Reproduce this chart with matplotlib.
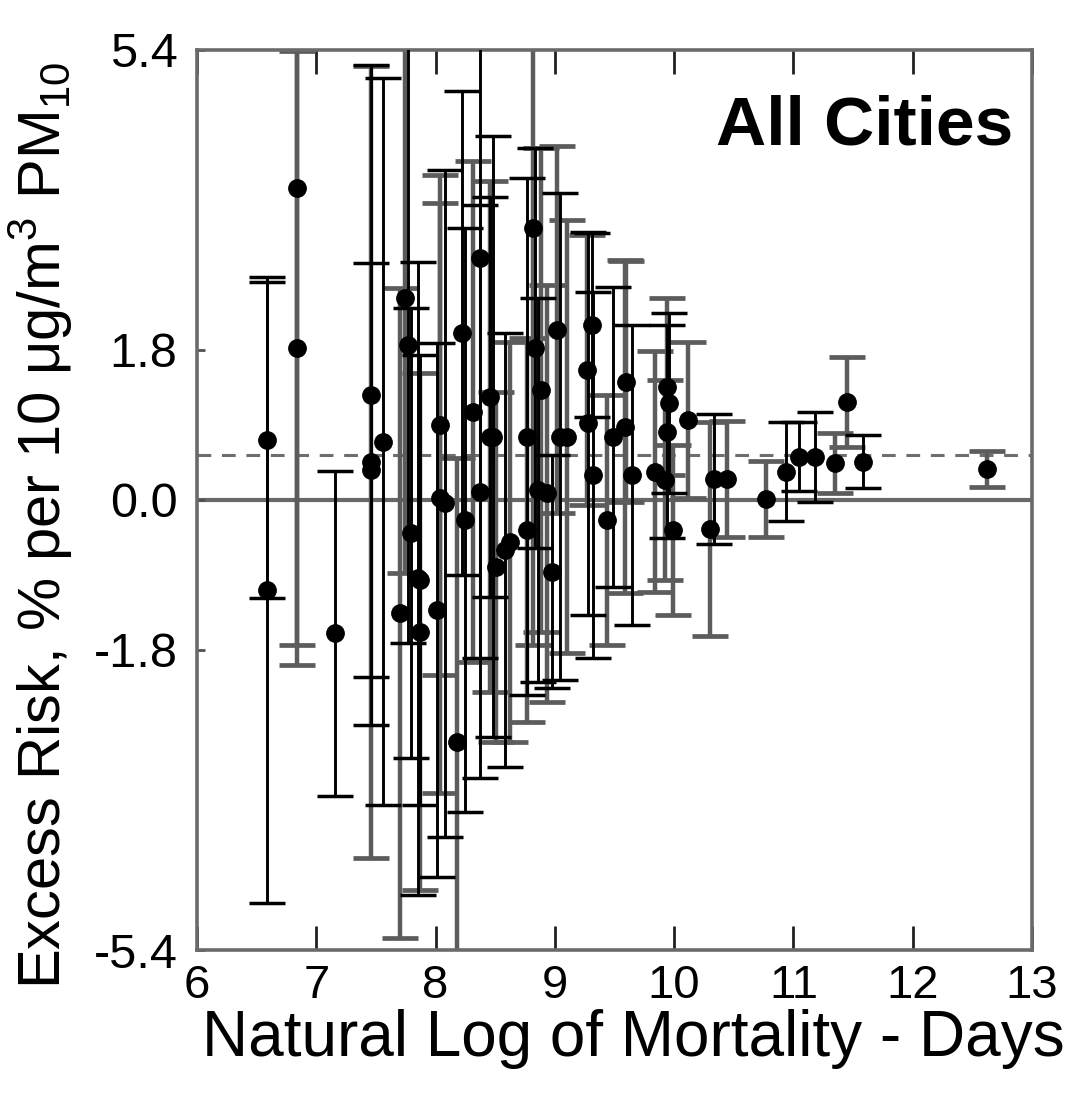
import matplotlib.pyplot as plt
import numpy as np

# city estimates: log of mortality-days, excess risk (%), half-width of 95% CI, bar shade (0 black, 1 grey)
ln_days = [6.59, 6.59, 6.84, 6.84, 7.16, 7.46, 7.46, 7.46, 7.56, 7.70,
           7.74, 7.77, 7.79, 7.85, 7.87, 7.87, 8.01, 8.04, 8.08, 8.04,
           8.18, 8.22, 8.25, 8.31, 8.37, 8.37, 8.46, 8.46, 8.48, 8.51,
           8.58, 8.62, 8.77, 8.77, 8.82, 8.83, 8.86, 8.88, 8.93, 8.98,
           9.02, 9.04, 9.10, 9.27, 9.28, 9.31, 9.32, 9.44, 9.49, 9.59,
           9.60, 9.65, 9.84, 9.94, 9.96, 9.94, 9.92, 9.99, 10.12, 10.30,
           10.33, 10.44, 10.77, 10.94, 11.05, 11.18, 11.35, 11.45, 11.58, 12.62]
excess_risk = [0.72, -1.08, 3.74, 1.82, -1.60, 1.26, 0.36, 0.45, 0.70, -1.36,
               2.42, 1.86, -0.40, -0.94, -1.58, -0.96, -1.32, 0.02, -0.04, 0.90,
               -2.90, 2.00, -0.24, 1.06, 2.90, 0.10, 0.76, 1.24, 0.76, -0.80,
               -0.60, -0.50, 0.76, -0.36, 3.26, 1.82, 0.12, 1.32, 0.08, -0.86,
               2.04, 0.76, 0.76, 1.56, 0.92, 2.10, 0.30, -0.24, 0.76, 0.88,
               1.42, 0.30, 0.34, 1.36, 1.16, 0.82, 0.24, -0.36, 0.96, -0.35,
               0.25, 0.25, 0.01, 0.34, 0.52, 0.52, 0.44, 1.18, 0.46, 0.37]
half_ci = [1.90, 3.76, 5.72, 3.56, 1.95, 3.96, 2.48, 4.75, 4.36, 3.90,
           3.30, 3.58, 2.70, 3.80, 3.10, 2.70, 3.20, 3.54, 4.00, 3.00,
           3.40, 2.90, 3.50, 3.00, 4.80, 3.44, 3.06, 2.40, 3.60, 2.10,
           2.60, 2.40, 3.10, 2.30, 5.00, 2.40, 2.30, 2.90, 2.50, 1.40,
           2.20, 2.92, 2.60, 1.62, 2.30, 1.10, 2.20, 1.50, 1.80, 2.00,
           1.45, 1.80, 1.45, 1.06, 1.08, 1.28, 1.20, 1.02, 0.94, 1.28,
           0.78, 0.70, 0.46, 0.59, 0.41, 0.54, 0.36, 0.54, 0.32, 0.22]
shade = [0, 0, 1, 1, 0, 0, 0, 1, 0, 1,
         1, 0, 0, 0, 1, 0, 0, 1, 0, 1,
         1, 0, 0, 1, 0, 0, 1, 0, 0, 1,
         0, 1, 0, 1, 1, 0, 0, 1, 1, 0,
         1, 0, 1, 1, 0, 0, 0, 1, 0, 1,
         1, 0, 1, 1, 0, 0, 1, 1, 1, 1,
         0, 1, 1, 0, 0, 0, 1, 1, 0, 1]

pooled = 0.54
y_ticks = [5.4, 1.8, 0.0, -1.8, -5.4]
y_labels = ['5.4', '1.8', '0.0', '-1.8', '-5.4']
x_ticks = [6, 7, 8, 9, 10, 11, 12, 13]

plt.rcParams['font.family'] = ['Liberation Sans', 'DejaVu Sans']
plt.rcParams['mathtext.fontset'] = 'custom'
plt.rcParams['mathtext.rm'] = 'Liberation Sans'

x = np.array(ln_days)
y = np.array(excess_risk)
e = np.array(half_ci)
s = np.array(shade)

fig = plt.figure(figsize=(10.75, 10.97), dpi=100)
ax = fig.add_axes([0.1833, 0.134, 0.7767, 0.8206])

ax.axhline(0.0, color='#686868', lw=3.0, zorder=1)
ax.axhline(pooled, color='#6e6e6e', lw=2.2, ls=(0, (4.5, 3.5)), zorder=1)

grey = s == 1
ax.errorbar(x[grey], y[grey], yerr=e[grey], fmt='none', ecolor='#5c5c5c',
            elinewidth=3.2, capsize=13, capthick=3.4, zorder=2)
ax.errorbar(x[~grey], y[~grey], yerr=e[~grey], fmt='none', ecolor='black',
            elinewidth=2.1, capsize=13, capthick=2.5, zorder=3)
ax.plot(x, y, 'o', color='black', ms=12.5, zorder=4)

ax.set_xlim(6, 13)
ax.set_ylim(-5.4, 5.4)
ax.set_xticks(x_ticks)
ax.set_yticks(y_ticks)
ax.set_yticklabels(y_labels)
ax.tick_params(axis='x', direction='in', length=17, width=2, color='#202020',
               top=True, labelsize=34, pad=10)
ax.tick_params(axis='y', direction='in', length=6, width=2, color='#505050',
               labelsize=35, pad=14)

for sp in ax.spines.values():
    sp.set_color('#6a6a6a')
    sp.set_linewidth(2.6)

ax.set_xlabel('Natural Log of Mortality - Days', fontsize=46)
ax.xaxis.set_label_coords(0.523, -0.065)
ax.set_ylabel('Excess Risk, % per 10 \u03bcg/m$^{\\rm 3}$ PM$_{\\rm 10}$', fontsize=43)
ax.yaxis.set_label_coords(-0.146, 0.472)
ax.text(0.977, 0.95, 'All Cities', transform=ax.transAxes, ha='right', va='top',
        fontsize=50, fontweight='bold')

plt.savefig('out.png', dpi=100)
